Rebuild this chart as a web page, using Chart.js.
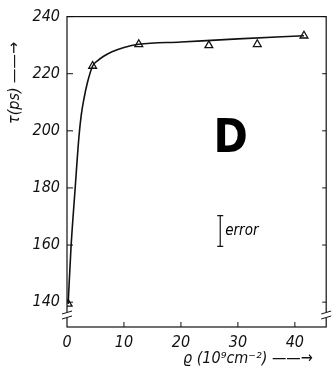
<!DOCTYPE html>
<html>
<head>
<meta charset="utf-8">
<script src="https://cdn.jsdelivr.net/npm/chart.js@4"></script>
<style>
  html, body { margin: 0; padding: 0; background: #fff; }
  #wrap { width: 332px; height: 382px; }
</style>
</head>
<body>
<div id="wrap"><canvas id="myChart" width="332" height="382"></canvas></div>
<script>
// measured points (triangles)
const rho = [0.2, 4.5, 12.6, 24.9, 33.4, 41.6];
const tau = [139.4, 222.7, 230.3, 229.9, 230.3, 233.3];

// hand drawn fit curve
const curveX = [0.2, 0.7, 1.4, 2.1, 2.5, 3.0, 3.6, 4.5, 5.4, 6.5, 8.0, 10.0, 12.6, 20, 30, 41.6];
const curveY = [139.4, 159, 179, 198, 205.5, 211.5, 217, 222.7, 224.6, 226.2, 227.8, 229.2, 230.3, 231.1, 232.2, 233.3];

// error bar
const errX = 26.9;
const errLow = 159.5;
const errHigh = 170.3;

const xTicks = [0, 10, 20, 30, 40];
const yTicks = [140, 160, 180, 200, 220, 240];

const xTitle = 'ϱ (10⁹cm⁻²) ——→';
const yTitle = 'τ(ps) ——→';

const FONT = "'Liberation Sans Narrow', 'DejaVu Sans Condensed', sans-serif";

const toPts = (xs, ys) => xs.map((x, i) => ({ x: x, y: ys[i] }));

// frame, inward ticks, axis breaks, titles and labels
const extras = {
  id: 'extras',
  afterDraw(chart) {
    const c = chart.ctx;
    const a = chart.chartArea;
    const xs = chart.scales.x, ys = chart.scales.y;
    c.save();
    c.strokeStyle = '#111';
    c.lineWidth = 1.2;
    c.strokeRect(a.left, a.top, a.right - a.left, a.bottom - a.top);
    c.lineWidth = 1;
    yTicks.forEach(v => {
      const y = ys.getPixelForValue(v);
      c.beginPath();
      c.moveTo(a.left, y); c.lineTo(a.left + 6, y);
      c.moveTo(a.right, y); c.lineTo(a.right - 4, y);
      c.stroke();
    });
    xTicks.slice(1).forEach(v => {
      const x = xs.getPixelForValue(v);
      c.beginPath();
      c.moveTo(x, a.bottom); c.lineTo(x, a.bottom - 5);
      c.stroke();
    });
    // axis break marks
    [a.left, a.right].forEach(x0 => {
      const yb = ys.getPixelForValue(135.5);
      c.fillStyle = '#fff';
      c.fillRect(x0 - 2, yb - 3, 4, 6);
      c.beginPath();
      c.moveTo(x0 - 5, yb - 1); c.lineTo(x0 + 5, yb - 4);
      c.moveTo(x0 - 5, yb + 4); c.lineTo(x0 + 5, yb + 1);
      c.stroke();
    });
    c.fillStyle = '#111';
    // axis titles
    c.font = 'italic 16px ' + FONT;
    c.textAlign = 'left';
    c.textBaseline = 'alphabetic';
    c.fillText(xTitle, 183, 363);
    c.save();
    c.translate(19, 124);
    c.rotate(-Math.PI / 2);
    c.fillText(yTitle, 0, 0);
    c.restore();
    // big letter
    c.fillStyle = '#000';
    c.font = "bold 46px " + FONT;
    c.fillText('D', xs.getPixelForValue(25.7), ys.getPixelForValue(192.7));
    // error label
    c.font = 'italic 15px ' + FONT;
    c.textBaseline = 'middle';
    c.fillText('error', xs.getPixelForValue(errX) + 5, ys.getPixelForValue((errLow + errHigh) / 2));
    c.restore();
  }
};

const ctx = document.getElementById('myChart').getContext('2d');
let myChart = new Chart(ctx, {
  type: 'scatter',
  data: {
    datasets: [{
      label: 'fit',
      data: toPts(curveX, curveY),
      showLine: true,
      borderColor: '#111',
      borderWidth: 1.6,
      pointRadius: 0,
      cubicInterpolationMode: 'monotone'
    }, {
      label: 'tau',
      data: toPts(rho, tau),
      pointStyle: 'triangle',
      pointRadius: 4.5,
      pointBackgroundColor: '#fff',
      pointBorderColor: '#111',
      pointBorderWidth: 1.3
    }, {
      label: 'error',
      data: [{ x: errX, y: errLow }, { x: errX, y: errHigh }],
      showLine: true,
      borderColor: '#111',
      borderWidth: 1.2,
      pointStyle: 'line',
      pointRadius: 3,
      pointBorderColor: '#111',
      pointBorderWidth: 1.2
    }]
  },
  options: {
    responsive: false,
    animation: false,
    layout: { padding: { top: 12, right: 1, left: 0, bottom: 0 } },
    plugins: {
      legend: { display: false },
      tooltip: { enabled: false }
    },
    scales: {
      x: {
        type: 'linear',
        min: 0,
        max: 45.5,
        afterBuildTicks: s => { s.ticks = xTicks.map(v => ({ value: v })); },
        afterFit: s => { s.height = 55; },
        grid: { display: false, drawTicks: false },
        border: { display: false },
        ticks: { color: '#111', padding: 6, font: { family: FONT, size: 16, style: 'italic' } },
        title: { display: false, text: xTitle }
      },
      y: {
        type: 'linear',
        min: 131.3,
        max: 240,
        afterBuildTicks: s => { s.ticks = yTicks.map(v => ({ value: v })); },
        afterFit: s => { s.width = 67; },
        grid: { display: false, drawTicks: false },
        border: { display: false },
        ticks: { color: '#111', padding: 7, font: { family: FONT, size: 16, style: 'italic' } },
        title: { display: false, text: yTitle }
      }
    }
  },
  plugins: [extras]
});
</script>
</body>
</html>
